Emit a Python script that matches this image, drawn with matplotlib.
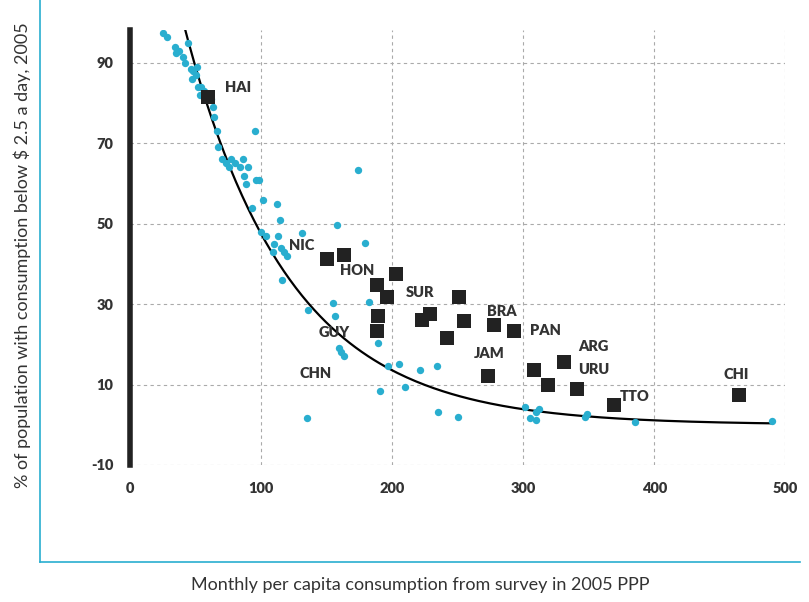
import numpy as np
import matplotlib.pyplot as plt
from matplotlib.lines import Line2D

plt.rcParams['font.family'] = ['Lato', 'DejaVu Sans']
plt.rcParams['axes.unicode_minus'] = False

# survey points (cyan)
cx = [25, 28, 34, 35, 37, 40, 42, 44, 46, 48, 50, 51, 47, 52, 53, 54, 56, 57, 59, 62,
      63, 64, 66, 67, 70, 73, 75, 77, 80, 84, 86, 87, 88, 90, 93, 95, 96, 98, 100, 101,
      104, 109, 110, 112, 113, 114, 115, 116, 117, 120, 131, 136, 155, 158, 156, 159, 161, 163,
      174, 179, 182, 191, 189, 197, 205, 210, 221, 234, 235, 250, 135, 301, 305, 310,
      310, 312, 347, 349, 385, 490]
cy = [97.5, 96.5, 94, 92.5, 93, 91.5, 90, 95, 88.5, 88, 87, 89, 86, 84, 82, 84, 83, 81, 81, 81,
      79, 76.5, 73, 69, 66, 65, 64, 66, 65, 64, 66, 62, 60, 64, 54, 73, 61, 61, 48, 56,
      47, 43, 45, 55, 47, 51, 44, 36, 43, 42, 47.8, 28.5, 30.4, 49.8, 27, 19.2, 18, 17,
      63.4, 45.3, 30.6, 8.5, 20.4, 14.7, 15.2, 9.3, 13.7, 14.7, 3.3, 2, 1.8, 4.3, 1.8, 1.3,
      3.3, 4, 2, 2.8, 0.8, 1]

# country points (squares)
sx = [59, 150, 163, 188, 203, 196, 251, 223, 229, 242, 255, 278, 293, 273, 308, 319,
      331, 341, 369, 465, 188, 189]
sy = [81.6, 41.3, 42.3, 34.8, 37.6, 31.9, 31.9, 26.1, 27.6, 21.7, 25.7, 24.7, 23.4, 12.2,
      13.7, 10, 15.7, 9, 4.8, 7.5, 23.4, 27.1]

labels = ['HAI', 'NIC', 'HON', 'SUR', 'BRA', 'PAN', 'GUY', 'JAM', 'ARG', 'URU', 'TTO', 'CHI', 'CHN']
lx = [72.5, 121, 160, 210, 272, 305, 143.5, 262, 342, 342, 374, 453, 129]
ly = [83.8, 44.5, 38.3, 32.9, 28.1, 23.4, 22.9, 17.7, 19.4, 13.7, 7, 12.5, 12.7]

cyan = '#29aecf'
dark = '#333333'

fig = plt.figure(figsize=(8.09, 6.02), dpi=100)
ax = fig.add_axes([0.161, 0.2276, 0.8097, 0.7226])

# exponential trend fitted to survey points
b, a = np.polyfit(cx, np.log(cy), 1)
fx = np.linspace(35, 490, 200)
ax.plot(fx, np.exp(a + b * fx), color='black', lw=1.6, zorder=3)

ax.scatter(cx, cy, s=28, color=cyan, zorder=4, linewidths=0)
ax.scatter(sx, sy, s=110, marker='s', color='#222222', zorder=5, linewidths=0)
for t, x, y in zip(labels, lx, ly):
    ax.text(x, y, t, fontsize=10.5, fontweight='heavy', color=dark, va='center', ha='left')

ax.set_xlim(0, 500)
ax.set_ylim(-10, 98.2)
ax.set_xticks([0, 100, 200, 300, 400, 500])
ax.set_yticks([-10, 10, 30, 50, 70, 90])
ax.grid(True, ls=(0, (3, 3)), color='#aaaaaa', lw=0.8)
ax.set_axisbelow(True)
for s in ['top', 'right', 'bottom']:
    ax.spines[s].set_visible(False)
ax.spines['left'].set_linewidth(4)
ax.spines['left'].set_color('#222222')
ax.tick_params(length=0, labelsize=10.5, labelcolor=dark, pad=12)
for lab in ax.get_xticklabels() + ax.get_yticklabels():
    lab.set_fontweight('heavy')

# cyan frame lines
fig.add_artist(Line2D([40 / 809, 40 / 809], [1, 1 - 562 / 602], color=cyan, lw=1.2))
fig.add_artist(Line2D([40 / 809, 800 / 809], [1 - 562 / 602, 1 - 562 / 602], color=cyan, lw=1.2))

fig.text(22 / 809, 1 - 255 / 602, '% of population with consumption below $ 2.5 a day, 2005',
         rotation=90, ha='center', va='center', fontsize=13, color=dark)
fig.text(420 / 809, 1 - 585 / 602, 'Monthly per capita consumption from survey in 2005 PPP',
         ha='center', va='center', fontsize=13, color=dark)

fig.savefig('out.png', dpi=100)
